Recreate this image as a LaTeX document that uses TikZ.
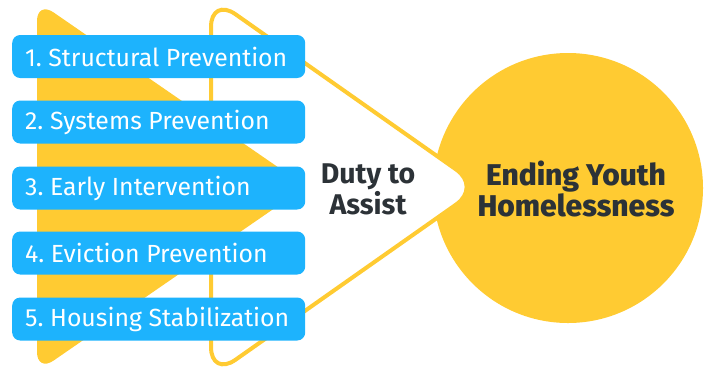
\documentclass[tikz,border=0pt]{standalone}
\usepackage{fontspec}
\setmainfont{Fira Sans}
\newfontfamily\heavyfont{Fira Sans ExtraBold}
\definecolor{ylw}{HTML}{FFCB32}
\definecolor{blu}{HTML}{1DB3FD}
\definecolor{drk}{HTML}{2C3237}
\frenchspacing
\begin{document}
\begin{tikzpicture}[x=1pt,y=-1pt,
  box/.style={fill=blu, rounded corners=8pt, minimum height=43pt, minimum width=293pt,
    text=white, font=\fontsize{24.8}{28}\selectfont, anchor=west,
    inner xsep=0pt, inner ysep=0pt},
  lbl/.style={text=drk, align=center, inner sep=0pt}
]
\useasboundingbox (0,0) rectangle (711,368);
\node[circle, fill=ylw, minimum size=270pt, inner sep=0pt] (c) at (568,188) {};
\draw[ylw, line width=4pt, fill=white, rounded corners=30pt] (211,-3) -- (481,187) -- (211,377) -- cycle;
\fill[ylw, rounded corners=20pt] (37,1) -- (306,186.5) -- (37,372) -- cycle;
\node[box] (b1) at (12,56.5) {\makebox[267pt][l]{1. Structural Prevention}};
\node[box] (b2) at (12,122) {\makebox[267pt][l]{2. Systems Prevention}};
\node[box] (b3) at (12,188) {\makebox[267pt][l]{3. Early Intervention}};
\node[box] (b4) at (12,253) {\makebox[267pt][l]{4. Eviction Prevention}};
\node[box] (b5) at (12,319) {\makebox[267pt][l]{5. Housing Stabilization}};
\node[lbl, font=\bfseries\fontsize{28.5}{31}\selectfont] (d) at (368,189) {Duty to\\Assist};
\node[lbl, font=\heavyfont\fontsize{30}{31}\selectfont] (e) at (576,189) {Ending Youth\\Homelessness};
\end{tikzpicture}
\end{document}
